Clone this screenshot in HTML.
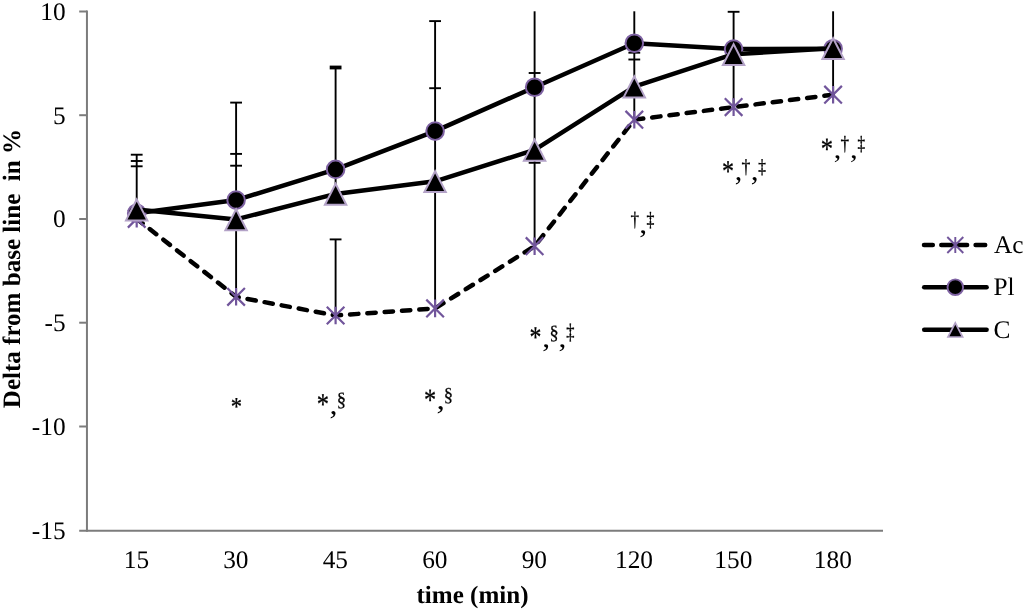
<!DOCTYPE html>
<html lang="en"><head><meta charset="utf-8"><title>Delta from base line in %</title>
<style>html,body{margin:0;padding:0;background:#fff}body{width:1024px;height:611px;overflow:hidden}svg{display:block}text{font-family:"Liberation Serif","Times New Roman",serif;fill:#000;text-rendering:geometricPrecision}</style></head><body>
<svg width="1024" height="611" viewBox="0 0 1024 611">
<rect width="1024" height="611" fill="#fff"/>
<g stroke="#7c7c7c" stroke-width="2" fill="none">
<path d="M86.95 10.5V531.8"/>
<path d="M79.2 530.8H883"/>
<path d="M79.2 11.5H87"/>
<path d="M79.2 115.2H87"/>
<path d="M79.2 219H87"/>
<path d="M79.2 322.7H87"/>
<path d="M79.2 426.5H87"/>
</g>
<g font-size="25.33" text-anchor="end">
<text x="65.6" y="19.9">10</text>
<text x="65.6" y="123.6">5</text>
<text x="65.6" y="227.4">0</text>
<text x="65.6" y="331.1">-5</text>
<text x="65.6" y="434.9">-10</text>
<text x="65.6" y="538.9">-15</text>
</g>
<g font-size="25.33" text-anchor="middle">
<text x="136.4" y="567.6">15</text>
<text x="235.8" y="567.6">30</text>
<text x="335.3" y="567.6">45</text>
<text x="434.8" y="567.6">60</text>
<text x="534.3" y="567.6">90</text>
<text x="634.0" y="567.6">120</text>
<text x="733.3" y="567.6">150</text>
<text x="832.8" y="567.6">180</text>
</g>
<text x="416.5" y="603.4" font-size="25.05" font-weight="bold">time (min)</text>
<text transform="translate(19.7 408.2) rotate(-90)" font-size="25.05" font-weight="bold" style="white-space:pre" xml:space="preserve">Delta from base line  in %</text>
<polyline points="136.7,218.8 236.1,296.8 335.6,315.5 435.1,308.4 534.6,246.2 634.3,119.7 733.6,107.1 833.1,94.7" fill="none" stroke="#000" stroke-width="4.5" stroke-dasharray="8.35 9" stroke-dashoffset="0.8" stroke-linecap="round" stroke-linejoin="round"/>
<g stroke="#000" stroke-width="1.9" fill="none">
<path d="M136.7 154.7V218.8"/>
<path d="M236.1 102.6V296.8"/>
<path d="M335.6 67.5V194"/>
<path d="M335.6 239.4V315.5"/>
<path d="M435.1 21.1V308.4"/>
<path d="M534.6 11.3V246.2"/>
<path d="M634.3 11.3V119.7"/>
<path d="M733.6 11.8V107.1"/>
<path d="M833.1 11.3V94.7"/>
</g>
<path d="M130.79999999999998 154.7H142.6" stroke="#000" stroke-width="1.9"/>
<path d="M130.79999999999998 161H142.6" stroke="#000" stroke-width="1.9"/>
<path d="M130.79999999999998 166.3H142.6" stroke="#000" stroke-width="1.9"/>
<path d="M230.2 102.6H242.0" stroke="#000" stroke-width="1.9"/>
<path d="M230.2 153.9H242.0" stroke="#000" stroke-width="1.9"/>
<path d="M230.2 165.7H242.0" stroke="#000" stroke-width="1.9"/>
<path d="M329.70000000000005 239.4H341.5" stroke="#000" stroke-width="1.9"/>
<path d="M429.20000000000005 21.1H441.0" stroke="#000" stroke-width="1.9"/>
<path d="M429.20000000000005 88.2H441.0" stroke="#000" stroke-width="1.9"/>
<path d="M528.7 73H540.5" stroke="#000" stroke-width="1.9"/>
<path d="M528.7 162.8H540.5" stroke="#000" stroke-width="1.9"/>
<path d="M628.4 52.7H640.1999999999999" stroke="#000" stroke-width="1.9"/>
<path d="M628.4 59.5H640.1999999999999" stroke="#000" stroke-width="1.9"/>
<path d="M727.7 11.8H739.5" stroke="#000" stroke-width="1.9"/>
<path d="M329.70000000000005 67.5H341.5" stroke="#000" stroke-width="3.8"/>
<path d="M127.89999999999999 210.0L145.5 227.60000000000002M127.89999999999999 227.60000000000002L145.5 210.0M136.7 210.0V227.60000000000002" stroke="#71559B" stroke-width="2.2" fill="none"/>
<path d="M227.29999999999998 288.0L244.9 305.6M227.29999999999998 305.6L244.9 288.0M236.1 288.0V305.6" stroke="#71559B" stroke-width="2.2" fill="none"/>
<path d="M326.8 306.7L344.40000000000003 324.3M326.8 324.3L344.40000000000003 306.7M335.6 306.7V324.3" stroke="#71559B" stroke-width="2.2" fill="none"/>
<path d="M426.3 299.59999999999997L443.90000000000003 317.2M426.3 317.2L443.90000000000003 299.59999999999997M435.1 299.59999999999997V317.2" stroke="#71559B" stroke-width="2.2" fill="none"/>
<path d="M525.8000000000001 237.39999999999998L543.4 255.0M525.8000000000001 255.0L543.4 237.39999999999998M534.6 237.39999999999998V255.0" stroke="#71559B" stroke-width="2.2" fill="none"/>
<path d="M625.5 110.9L643.0999999999999 128.5M625.5 128.5L643.0999999999999 110.9M634.3 110.9V128.5" stroke="#71559B" stroke-width="2.2" fill="none"/>
<path d="M724.8000000000001 98.3L742.4 115.89999999999999M724.8000000000001 115.89999999999999L742.4 98.3M733.6 98.3V115.89999999999999" stroke="#71559B" stroke-width="2.2" fill="none"/>
<path d="M824.3000000000001 85.9L841.9 103.5M824.3000000000001 103.5L841.9 85.9M833.1 85.9V103.5" stroke="#71559B" stroke-width="2.2" fill="none"/>
<polyline points="136.7,213.3 236.1,200.1 335.6,169.4 435.1,131.1 534.6,87.2 634.3,43.2 733.6,49.1 833.1,48.7" fill="none" stroke="#000" stroke-width="4.5" stroke-linejoin="round" stroke-linecap="round"/>
<circle cx="136.7" cy="213.3" r="8.8" fill="#000" stroke="#7F63A3" stroke-width="2"/>
<circle cx="236.1" cy="200.1" r="8.8" fill="#000" stroke="#7F63A3" stroke-width="2"/>
<circle cx="335.6" cy="169.4" r="8.8" fill="#000" stroke="#7F63A3" stroke-width="2"/>
<circle cx="435.1" cy="131.1" r="8.8" fill="#000" stroke="#7F63A3" stroke-width="2"/>
<circle cx="534.6" cy="87.2" r="8.8" fill="#000" stroke="#7F63A3" stroke-width="2"/>
<circle cx="634.3" cy="43.2" r="8.8" fill="#000" stroke="#7F63A3" stroke-width="2"/>
<circle cx="733.6" cy="49.1" r="8.8" fill="#000" stroke="#7F63A3" stroke-width="2"/>
<circle cx="833.1" cy="48.7" r="8.8" fill="#000" stroke="#7F63A3" stroke-width="2"/>
<polyline points="136.7,209.6 236.1,219.4 335.6,193.9 435.1,181.3 534.6,149.9 634.3,86.6 733.6,54.2 833.1,48.3" fill="none" stroke="#000" stroke-width="4.5" stroke-linejoin="round" stroke-linecap="round"/>
<path d="M136.7 199.50L147.39999999999998 220.40H125.99999999999999Z" fill="#000" stroke="#B3A2C7" stroke-width="2.0" stroke-linejoin="miter" stroke-miterlimit="10"/>
<path d="M236.1 209.30L246.79999999999998 230.20H225.4Z" fill="#000" stroke="#B3A2C7" stroke-width="2.0" stroke-linejoin="miter" stroke-miterlimit="10"/>
<path d="M335.6 183.80L346.3 204.70H324.90000000000003Z" fill="#000" stroke="#B3A2C7" stroke-width="2.0" stroke-linejoin="miter" stroke-miterlimit="10"/>
<path d="M435.1 171.20L445.8 192.10H424.40000000000003Z" fill="#000" stroke="#B3A2C7" stroke-width="2.0" stroke-linejoin="miter" stroke-miterlimit="10"/>
<path d="M534.6 139.80L545.3000000000001 160.70H523.9Z" fill="#000" stroke="#B3A2C7" stroke-width="2.0" stroke-linejoin="miter" stroke-miterlimit="10"/>
<path d="M634.3 76.50L645.0 97.40H623.5999999999999Z" fill="#000" stroke="#B3A2C7" stroke-width="2.0" stroke-linejoin="miter" stroke-miterlimit="10"/>
<path d="M733.6 44.10L744.3000000000001 65.00H722.9Z" fill="#000" stroke="#B3A2C7" stroke-width="2.0" stroke-linejoin="miter" stroke-miterlimit="10"/>
<path d="M833.1 38.20L843.8000000000001 59.10H822.4Z" fill="#000" stroke="#B3A2C7" stroke-width="2.0" stroke-linejoin="miter" stroke-miterlimit="10"/>
<g><text transform="translate(230.65 415.21) scale(0.871 1)" font-size="25.91" stroke="#000" stroke-width="0.3" stroke-linejoin="round">*</text></g>
<g><text transform="translate(316.85 414.07) scale(0.811 1)" font-size="30.27" stroke="#000" stroke-width="0.3" stroke-linejoin="round">*</text><text transform="translate(329.57 413.53) scale(1.134 1)" font-size="28.43">,</text><text transform="translate(336.75 406.11) scale(0.943 1)" font-size="19.73" stroke="#000" stroke-width="0.25" stroke-linejoin="round">§</text></g>
<g><text transform="translate(423.96 409.61) scale(0.782 1)" font-size="31.09" stroke="#000" stroke-width="0.3" stroke-linejoin="round">*</text><text transform="translate(436.62 408.53) scale(1.181 1)" font-size="28.43">,</text><text transform="translate(443.85 401.17) scale(0.967 1)" font-size="19.24" stroke="#000" stroke-width="0.25" stroke-linejoin="round">§</text></g>
<g><text transform="translate(529.59 346.87) scale(0.786 1)" font-size="30.27" stroke="#000" stroke-width="0.3" stroke-linejoin="round">*</text><text transform="translate(542.30 346.51) scale(1.158 1)" font-size="27.26">,</text><text transform="translate(549.48 338.81) scale(0.928 1)" font-size="19.73" stroke="#000" stroke-width="0.25" stroke-linejoin="round">§</text><text transform="translate(558.40 346.51) scale(1.158 1)" font-size="27.26">,</text><text transform="translate(566.19 338.60) scale(0.740 1)" font-size="22.19" stroke="#000" stroke-width="0.4" stroke-linejoin="round">‡</text></g>
<g><text transform="translate(630.42 226.25) scale(0.847 1)" font-size="20.47" stroke="#000" stroke-width="0.3" stroke-linejoin="round">†</text><text transform="translate(639.30 233.35) scale(1.142 1)" font-size="27.65">,</text><text transform="translate(646.62 226.22) scale(0.774 1)" font-size="20.35" stroke="#000" stroke-width="0.4" stroke-linejoin="round">‡</text></g>
<g><text transform="translate(721.88 180.67) scale(0.795 1)" font-size="30.27" stroke="#000" stroke-width="0.3" stroke-linejoin="round">*</text><text transform="translate(734.65 180.07) scale(1.049 1)" font-size="28.82">,</text><text transform="translate(741.50 172.81) scale(0.891 1)" font-size="19.98" stroke="#000" stroke-width="0.3" stroke-linejoin="round">†</text><text transform="translate(750.80 180.07) scale(1.095 1)" font-size="28.82">,</text><text transform="translate(758.13 172.77) scale(0.770 1)" font-size="19.85" stroke="#000" stroke-width="0.4" stroke-linejoin="round">‡</text></g>
<g><text transform="translate(820.85 158.71) scale(0.790 1)" font-size="31.09" stroke="#000" stroke-width="0.3" stroke-linejoin="round">*</text><text transform="translate(833.75 157.67) scale(1.125 1)" font-size="26.87">,</text><text transform="translate(840.62 150.28) scale(0.857 1)" font-size="20.22" stroke="#000" stroke-width="0.3" stroke-linejoin="round">†</text><text transform="translate(850.02 157.67) scale(1.150 1)" font-size="26.87">,</text><text transform="translate(857.44 150.24) scale(0.749 1)" font-size="20.10" stroke="#000" stroke-width="0.4" stroke-linejoin="round">‡</text></g>
<g stroke="#000" stroke-width="4.5" stroke-linecap="round" fill="none">
<path d="M924.0 245H932.8M941.3 245H967.1M975.6 245H985.2"/>
<path d="M924.2 287.3H986.6"/>
<path d="M924.2 329.7H986.6"/>
</g>
<path d="M947.3 237L963.3 253M947.3 253L963.3 237M955.3 237V253" stroke="#71559B" stroke-width="1.9" fill="none"/>
<circle cx="955.3" cy="287.2" r="7.8" fill="#000" stroke="#7F63A3" stroke-width="1.9"/>
<path d="M955.3 322.80L962.5999999999999 337.00H948.0Z" fill="#000" stroke="#B3A2C7" stroke-width="1.7" stroke-linejoin="miter" stroke-miterlimit="10"/>
<g font-size="25.33">
<text x="994" y="253.1">Ac</text>
<text x="993.5" y="295.2">Pl</text>
<text x="993.4" y="337.6">C</text>
</g>
</svg></body></html>
